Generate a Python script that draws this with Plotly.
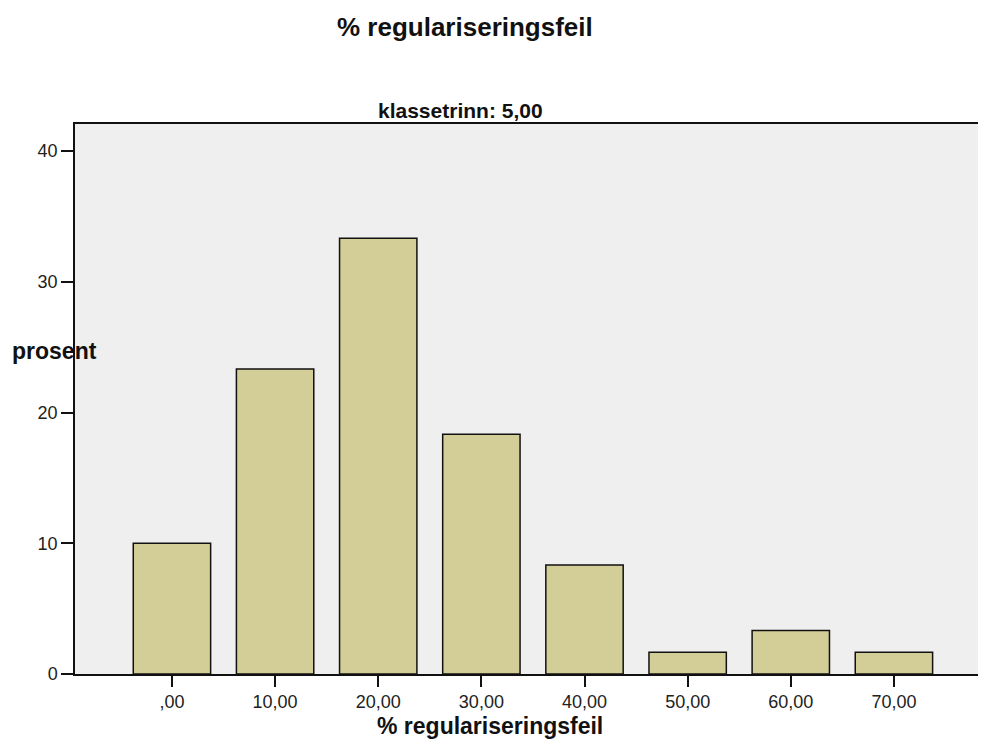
import plotly.graph_objects as go

categories = [",00", "10,00", "20,00", "30,00", "40,00", "50,00", "60,00", "70,00"]
percent = [10.0, 23.33, 33.33, 18.33, 8.33, 1.67, 3.33, 1.67]
y_ticks = [0, 10, 20, 30, 40]

title_text = "% regulariseringsfeil"
panel_text = "klassetrinn: 5,00"
x_title = "% regulariseringsfeil"
y_title = "prosent"

# page is offset by the default 8px body margin
OFF = 8
W, H = 970, 731
ML = 75 - OFF
MT = 124 - OFF
MR = 0
MB = H - (674 - OFF)
PW = W - ML - MR
PH = H - MT - MB

def px(x):
    return (x - OFF - ML) / PW

def py(y):
    return (H - MB - (y - OFF)) / PH

FONT = "Arial, Liberation Sans, sans-serif"

fig = go.Figure()
fig.add_trace(go.Bar(
    x=categories, y=percent,
    marker=dict(color="#D3CE98", line=dict(color="#111111", width=1.5)),
    hoverinfo="x+y",
))

fig.update_layout(
    width=W, height=H,
    margin=dict(l=ML, r=MR, t=MT, b=MB),
    paper_bgcolor="white",
    plot_bgcolor="#EFEFEF",
    bargap=0.25,
    showlegend=False,
    font=dict(family=FONT, color="#111111"),
)
fig.update_xaxes(
    type="category",
    range=[-0.94, -0.94 + PW / 103.14],
    showgrid=False, zeroline=False,
    showline=True, linecolor="#111111", linewidth=1.5, mirror=True,
    ticks="outside", ticklen=11, tickwidth=1.5, tickcolor="#111111",
    tickfont=dict(size=18, family=FONT, color="#222222"),
)
fig.update_yaxes(
    range=[0, 42.07],
    tickvals=y_ticks,
    showgrid=False, zeroline=False,
    showline=True, linecolor="#111111", linewidth=1.5,
    ticks="outside", ticklen=12, tickwidth=1.5, tickcolor="#111111",
    tickfont=dict(size=18, family=FONT, color="#222222"),
)

anns = [
    dict(text="<b>%s</b>" % title_text, x=px(465), y=py(27), size=26),
    dict(text="<b>%s</b>" % panel_text, x=px(460), y=py(111), size=21),
    dict(text="<b>%s</b>" % x_title, x=px(490), y=py(726), size=23),
    dict(text="<b>%s</b>" % y_title, x=px(54), y=py(351), size=23),
]
for a in anns:
    fig.add_annotation(
        text=a["text"], x=a["x"], y=a["y"], xref="paper", yref="paper",
        xanchor="center", yanchor="middle", showarrow=False,
        font=dict(size=a["size"], family=FONT, color="#111111"),
    )

fig.write_html("out.html")
